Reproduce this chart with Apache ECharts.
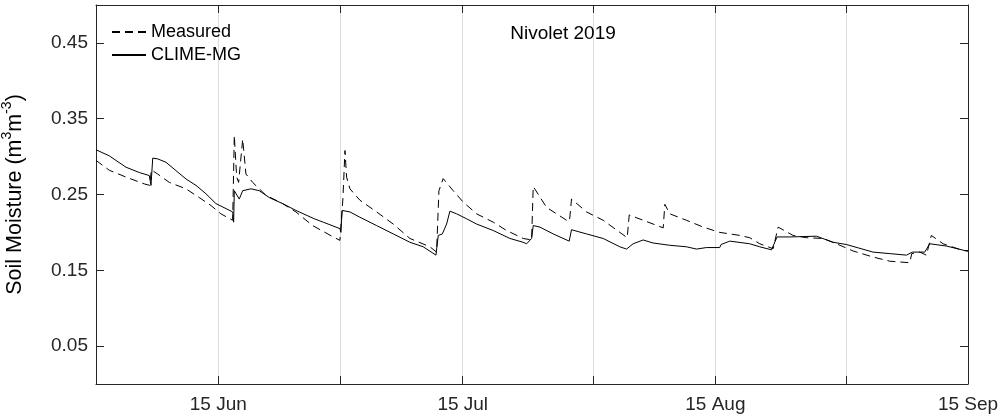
<!DOCTYPE html>
<html>
<head>
<meta charset="utf-8">
<script src="https://cdn.jsdelivr.net/npm/echarts@6/dist/echarts.min.js"></script>
<style>
html,body{margin:0;padding:0;background:#fff;}
#chart{width:1003px;height:418px;}
</style>
</head>
<body>
<div id="chart"></div>
<script>
// x values are day offsets counted from 31 May 2019 (00:00 UTC)
const startDate = [2019, 4, 31];
const endDate = [2019, 8, 15];

const climeDays = [0, 1.63, 3.68, 5.31, 6.54, 6.75, 6.96, 7.57, 8.59, 9.81, 11.04, 12.27, 13.49, 14.72, 16.77, 16.89, 16.97, 17.58, 18.0, 19.01, 20.03, 21.26, 22.9, 24.53, 26.78, 27.88, 29.93, 30.05, 30.2, 31.16, 32.38, 34.43, 36.47, 38.52, 40.15, 41.71, 42.0, 42.5, 43.02, 43.43, 44.25, 45.47, 46.7, 48.74, 50.79, 52.4, 52.84, 53.45, 53.65, 54.47, 56.1, 58.06, 58.35, 60.19, 62.23, 64.28, 65.1, 65.91, 67.14, 68.36, 70.41, 72.46, 73.69, 74.91, 76.54, 76.7, 77.77, 80.22, 81.45, 82.89, 83.57, 85.13, 88.41, 90.44, 92.08, 95.35, 97.4, 99.45, 100.18, 101.69, 102.3, 104.35, 107];
const climeVals = [0.309, 0.301, 0.286, 0.279, 0.275, 0.262, 0.298, 0.297, 0.2925, 0.2815, 0.2705, 0.262, 0.251, 0.238, 0.227, 0.2135, 0.255, 0.244, 0.255, 0.2575, 0.255, 0.246, 0.238, 0.229, 0.218, 0.2135, 0.205, 0.200, 0.229, 0.227, 0.220, 0.209, 0.198, 0.187, 0.181, 0.170, 0.196, 0.198, 0.211, 0.228, 0.2245, 0.218, 0.211, 0.2025, 0.192, 0.187, 0.185, 0.192, 0.209, 0.207, 0.198, 0.1885, 0.2035, 0.198, 0.192, 0.181, 0.178, 0.185, 0.190, 0.186, 0.183, 0.181, 0.178, 0.180, 0.180, 0.184, 0.1885, 0.185, 0.181, 0.177, 0.194, 0.194, 0.195, 0.187, 0.184, 0.174, 0.172, 0.170, 0.174, 0.174, 0.185, 0.182, 0.175];

const measDays = [0, 1.63, 3.68, 5.92, 6.6, 6.79, 7.57, 8.99, 11.04, 12.67, 14.1, 15.33, 16.77, 16.97, 17.26, 17.5, 18.0, 18.4, 19.22, 20.85, 22.9, 24.53, 26.58, 29.11, 29.93, 30.3, 30.55, 30.75, 31.16, 32.38, 34.43, 36.47, 38.52, 40.97, 41.79, 42.08, 42.6, 43.83, 45.06, 46.7, 48.74, 50.38, 52.42, 53.45, 53.65, 55.29, 57.74, 58.1, 58.35, 60.19, 62.23, 64.28, 65.18, 65.43, 67.14, 69.6, 69.8, 70.41, 72.46, 74.5, 76.54, 79.0, 80.22, 81.45, 83.09, 83.7, 85.54, 87.18, 89.22, 90.86, 92.9, 95.35, 97.4, 99.85, 100.1, 101.08, 101.9, 102.5, 103.94, 106.4, 107];
const measVals = [0.295, 0.282, 0.273, 0.264, 0.262, 0.2825, 0.277, 0.266, 0.2575, 0.246, 0.2355, 0.2245, 0.216, 0.328, 0.273, 0.266, 0.323, 0.277, 0.266, 0.249, 0.238, 0.227, 0.209, 0.194, 0.1895, 0.245, 0.308, 0.273, 0.2575, 0.2425, 0.227, 0.211, 0.192, 0.181, 0.174, 0.255, 0.271, 0.255, 0.240, 0.2245, 0.2135, 0.2025, 0.192, 0.190, 0.2605, 0.233, 0.216, 0.215, 0.244, 0.227, 0.216, 0.200, 0.193, 0.223, 0.216, 0.206, 0.237, 0.2245, 0.216, 0.207, 0.200, 0.196, 0.193, 0.185, 0.1785, 0.207, 0.196, 0.193, 0.192, 0.185, 0.1755, 0.1675, 0.162, 0.160, 0.172, 0.174, 0.170, 0.196, 0.185, 0.176, 0.176];

// tick dates [month(0-based), day]
const tickDates = [[5, 15], [5, 30], [6, 15], [6, 31], [7, 15], [7, 31], [8, 15]];
const labelDates = [[5, 15], [6, 15], [7, 15], [8, 15]];
const monthNames = ['Jan','Feb','Mar','Apr','May','Jun','Jul','Aug','Sep','Oct','Nov','Dec'];
const yTicks = [0.05, 0.15, 0.25, 0.35, 0.45];
const yRange = [0, 0.5];

const seriesNames = ['Measured', 'CLIME-MG'];
const titleText = 'Nivolet 2019';

const DAY = 86400000;
const t0 = Date.UTC(startDate[0], startDate[1], startDate[2]);
const t1 = Date.UTC(endDate[0], endDate[1], endDate[2]);
const toDay = md => Math.round((Date.UTC(2019, md[0], md[1]) - t0) / DAY);
const tickDays = tickDates.map(toDay);
const labelDays = labelDates.map(toDay);
const xMax = Math.round((t1 - t0) / DAY);
const toData = (days, vals) => days.map((d, i) => [d, vals[i]]);
const dayLabel = v => { const d = new Date(t0 + v * DAY); return d.getUTCDate() + ' ' + monthNames[d.getUTCMonth()]; };

const axisColor = '#262626';
const fontFam = '"Liberation Sans", Arial, Helvetica, sans-serif';

const chart = echarts.init(document.getElementById('chart'), null, {renderer: 'canvas'});

const xBase = {
  type: 'value', min: 0, max: xMax,
  axisLine: {show: true, onZero: false, lineStyle: {color: axisColor, width: 1}},
  axisTick: {show: true, inside: true, length: 8, customValues: tickDays, lineStyle: {color: axisColor, width: 1}},
  splitLine: {show: false}
};
const yBase = {
  type: 'value', min: yRange[0], max: yRange[1],
  axisLine: {show: true, onZero: false, lineStyle: {color: axisColor, width: 1}},
  axisTick: {show: true, inside: true, length: 8, customValues: yTicks, lineStyle: {color: axisColor, width: 1}},
  splitLine: {show: false}
};

chart.setOption({
  animation: false,
  backgroundColor: '#ffffff',
  title: {
    text: titleText, left: 558, top: 19, textAlign: 'center',
    textStyle: {fontFamily: fontFam, fontSize: 19, fontWeight: 'normal', color: '#000'}
  },
  legend: {
    orient: 'vertical', left: 111, top: 22, padding: 0,
    itemWidth: 34, itemHeight: 14, itemGap: 3,
    data: seriesNames,
    itemStyle: {color: 'rgba(0,0,0,0)', borderWidth: 0, opacity: 0},
    textStyle: {fontFamily: fontFam, fontSize: 18, color: '#000', lineHeight: 20}
  },
  grid: {left: 96, right: 35, top: 5, bottom: 34, containLabel: false, outerBoundsMode: 'none'},
  xAxis: [
    Object.assign({}, xBase, {
      position: 'bottom',
      axisLabel: {
        show: true, customValues: labelDays, margin: 11,
        fontFamily: fontFam, fontSize: 19, color: axisColor,
        formatter: dayLabel
      },
      splitLine: {show: true, lineStyle: {color: '#dcdcdc', width: 1}}
    }),
    Object.assign({}, xBase, {position: 'top', axisLabel: {show: false}})
  ],
  yAxis: [
    Object.assign({}, yBase, {
      position: 'left',
      axisLabel: {show: true, customValues: yTicks, margin: 8, fontFamily: fontFam, fontSize: 19, color: axisColor,
        formatter: v => v.toFixed(2)},
      name: '{a|Soil Moisture (m}{s|3}{a|m}{s|-3}{a|)}',
      nameLocation: 'middle', nameRotate: 90, nameGap: 70,
      nameTextStyle: {
        fontFamily: fontFam, color: '#000', lineHeight: 26, padding: [0, 0, 0, 0],
        rich: {
          a: {fontFamily: fontFam, fontSize: 21.5, color: '#000', verticalAlign: 'bottom', lineHeight: 26},
          s: {fontFamily: fontFam, fontSize: 14, color: '#000', verticalAlign: 'top', lineHeight: 26}
        }
      }
    }),
    Object.assign({}, yBase, {position: 'right', axisLabel: {show: false}})
  ],
  series: [
    {
      name: seriesNames[0], type: 'line', xAxisIndex: 0, yAxisIndex: 0,
      data: toData(measDays, measVals),
      showSymbol: false, symbol: 'none',
      lineStyle: {color: '#000', width: 1, type: [8, 5]},
      itemStyle: {color: '#000'}
    },
    {
      name: seriesNames[1], type: 'line', xAxisIndex: 0, yAxisIndex: 0,
      data: toData(climeDays, climeVals),
      showSymbol: false, symbol: 'none',
      lineStyle: {color: '#000', width: 1, type: 'solid'},
      itemStyle: {color: '#000'}
    }
  ]
});
</script>
</body>
</html>
